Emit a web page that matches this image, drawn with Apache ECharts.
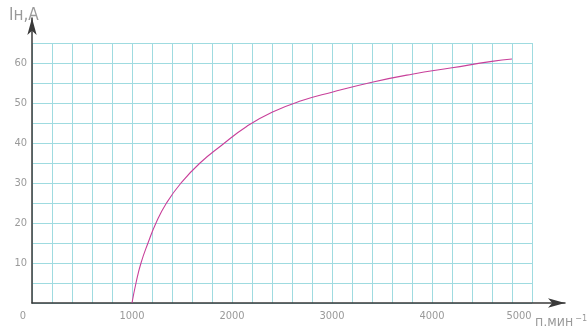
<!DOCTYPE html>
<html>
<head>
<meta charset="utf-8">
<script src="https://cdn.jsdelivr.net/npm/echarts@6/dist/echarts.min.js"></script>
<style>html,body{margin:0;padding:0;background:#fff;}#c{width:587px;height:326px;}</style>
</head>
<body>
<div id="c"></div>
<script>
const rpm = [1000, 1040, 1090, 1160, 1240, 1345, 1490, 1680, 1900, 2150, 2400, 2700, 3000, 3400, 3800, 4200, 4600, 4800];
const current = [0, 5, 10, 15, 20, 25, 30, 35, 39.5, 44.2, 47.7, 50.6, 52.7, 55.2, 57.2, 58.8, 60.4, 61];
const xTickLabels = ['0', '1000', '2000', '3000', '4000', '5000'];
const yTickLabels = ['10', '20', '30', '40', '50', '60'];

const font = '"Liberation Sans Narrow", "DejaVu Sans Condensed", sans-serif';
const textColor = '#9a9a9a';
const gridColor = '#9fdbe0';

const chart = echarts.init(document.getElementById('c'), null, {renderer: 'canvas'});
chart.setOption({
  animation: false,
  backgroundColor: '#fff',
  title: [
    {text: 'Iн,А', left: 4, top: 2, textStyle: {fontFamily: font, fontSize: 17, fontWeight: 'normal', color: textColor}},
    {text: '{a|п,мин}{s|−1}', left: 530, top: 309,
      textStyle: {fontWeight: 'normal', rich: {
        a: {fontFamily: font, fontSize: 14, fontWeight: 'normal', color: textColor},
        s: {fontFamily: font, fontSize: 9, fontWeight: 'normal', color: textColor, verticalAlign: 'top', padding: [0, 0, 8, 2]}
      }}}
  ],
  grid: [
    {left: 32, right: 55, top: 43, bottom: 23},
    {left: 32, right: 22, top: 18, bottom: 23}
  ],
  xAxis: [
    {type: 'value', gridIndex: 0, min: 0, max: 5000, interval: 200,
      axisLine: {show: false}, axisTick: {show: false},
      splitLine: {show: true, lineStyle: {color: gridColor, width: 1}},
      axisLabel: {show: true, showMinLabel: true, showMaxLabel: true, margin: 8,
        fontFamily: font, fontSize: 11, color: textColor,
        formatter: function (v) {
          if (v % 1000 !== 0) return '';
          const s = xTickLabels[v / 1000];
          if (v === 0) return '{z|' + s + '}';
          if (v === 5000) return '{e|' + s + '}';
          return s;
        },
        rich: {
          z: {fontFamily: font, fontSize: 11, color: textColor, padding: [0, 18, 0, 0]},
          e: {fontFamily: font, fontSize: 11, color: textColor, padding: [0, 26, 0, 0]}
        }
      }},
    {type: 'value', gridIndex: 1, min: 0, max: 1,
      axisLine: {show: true, lineStyle: {color: '#3a3a3a', width: 1.5}, symbol: ['none', 'arrow'], symbolSize: [7, 17]},
      axisTick: {show: false}, axisLabel: {show: false}, splitLine: {show: false}}
  ],
  yAxis: [
    {type: 'value', gridIndex: 0, min: 0, max: 65, interval: 5,
      axisLine: {show: false}, axisTick: {show: false},
      splitLine: {show: true, lineStyle: {color: gridColor, width: 1}},
      axisLabel: {show: true, margin: 5, fontFamily: font, fontSize: 11, color: textColor,
        formatter: function (v) {
          if (v === 0 || v % 10 !== 0) return '';
          return yTickLabels[v / 10 - 1] || '';
        }}},
    {type: 'value', gridIndex: 1, min: 0, max: 1,
      axisLine: {show: true, lineStyle: {color: '#3a3a3a', width: 1.5}, symbol: ['none', 'arrow'], symbolSize: [7, 17]},
      axisTick: {show: false}, axisLabel: {show: false}, splitLine: {show: false}}
  ],
  series: [{
    type: 'line', xAxisIndex: 0, yAxisIndex: 0,
    data: rpm.map((x, i) => [x, current[i]]),
    smooth: 0.5, showSymbol: false, symbol: 'none',
    lineStyle: {color: '#c8409a', width: 1.1}
  }]
});
</script>
</body>
</html>
